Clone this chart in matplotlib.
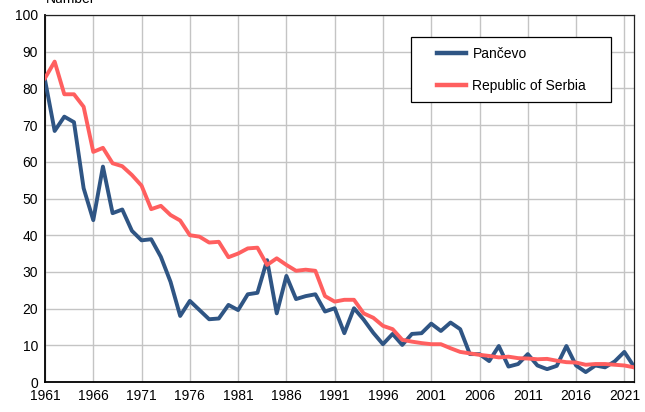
import matplotlib
matplotlib.use("Agg")
import matplotlib.pyplot as plt
from matplotlib.patches import Rectangle

plt.rcParams['font.family'] = ['Liberation Sans', 'DejaVu Sans']

years = list(range(1961, 2023))
pancevo = [82.3, 68.4, 72.3, 70.8, 52.8, 44.1, 58.7, 46.0, 47.0, 41.2,
           38.6, 38.9, 34.1, 27.3, 18.0, 22.1, 19.6, 17.1, 17.3, 21.0,
           19.6, 23.9, 24.3, 33.2, 18.7, 28.9, 22.6, 23.4, 23.9, 19.2,
           20.1, 13.3, 20.1, 17.0, 13.4, 10.3, 13.1, 10.1, 13.1, 13.3,
           15.9, 13.9, 16.2, 14.4, 7.6, 7.6, 5.7, 9.8, 4.2, 4.9,
           7.6, 4.5, 3.5, 4.4, 9.8, 4.5, 2.7, 4.5, 4.0, 5.6,
           8.2, 4.2]
serbia = [82.8, 87.3, 78.4, 78.4, 75.0, 62.7, 63.8, 59.6, 58.8, 56.4,
          53.5, 47.1, 48.0, 45.5, 44.0, 40.0, 39.6, 38.0, 38.2, 34.0,
          35.0, 36.4, 36.6, 31.9, 33.7, 31.9, 30.3, 30.6, 30.3, 23.4,
          21.9, 22.4, 22.4, 18.7, 17.5, 15.3, 14.4, 11.5, 11.0, 10.6,
          10.3, 10.3, 9.2, 8.2, 7.8, 7.4, 7.1, 6.7, 6.9, 6.5,
          6.4, 6.2, 6.3, 5.8, 5.4, 5.3, 4.7, 4.9, 4.9, 4.7,
          4.5, 4.0]
xticks = list(range(1961, 2022, 5))
yticks = list(range(0, 101, 10))

W, H = 645, 412
AX_L, AX_T, AX_W, AX_H = 45, 15, 589, 367

fig = plt.figure(figsize=(W/100, H/100), dpi=100)
ax = fig.add_axes([AX_L/W, (H - AX_T - AX_H)/H, AX_W/W, AX_H/H])

def axx(px):
    return (px - AX_L) / AX_W

def axy(py):
    return 1 - (py - AX_T) / AX_H

ax.plot(years, pancevo, color='#2F5584', lw=2.8, label='Pančevo', zorder=3,
        solid_joinstyle='round')
ax.plot(years, serbia, color='#FF5F5F', lw=2.8, label='Republic of Serbia', zorder=3,
        solid_joinstyle='round')

ax.set_xlim(1961, 2022)
ax.set_ylim(0, 100)
ax.set_xticks(xticks)
ax.set_yticks(yticks)
ax.tick_params(axis='both', length=0, labelsize=10, colors='black', pad=5)
ax.grid(True, color='#C4C4C4', lw=1.0, zorder=0)
for s in ['left', 'bottom']:
    ax.spines[s].set_linewidth(1.3)
    ax.spines[s].set_color('black')
for s in ['top', 'right']:
    ax.spines[s].set_linewidth(0.9)
    ax.spines[s].set_color('#222222')

# legend frame
ax.add_patch(Rectangle((axx(411), axy(102)), axx(611) - axx(411), axy(37) - axy(102),
                       transform=ax.transAxes, facecolor='white', edgecolor='black',
                       lw=0.9, zorder=4))

leg = ax.legend(loc='upper left', bbox_to_anchor=(axx(437), axy(47)),
                frameon=False, fontsize=10,
                handlelength=2.1, labelspacing=1.3, borderpad=0,
                borderaxespad=0, handletextpad=0.45)
leg.set_zorder(5)
for h in leg.get_lines():
    h.set_linewidth(3.2)

fig.text(46/W, 1 - 3/H, 'Number', fontsize=10, va='baseline', ha='left')

fig.savefig('out.png', dpi=100)
